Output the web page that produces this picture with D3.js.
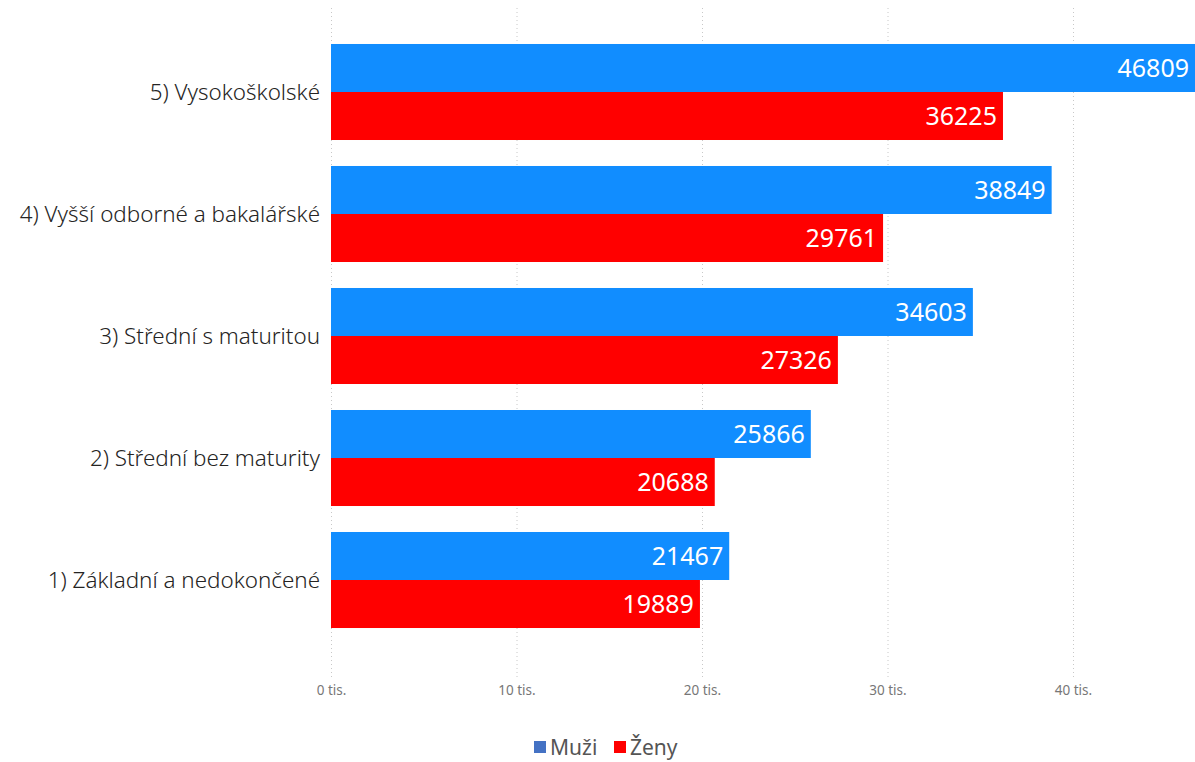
<!DOCTYPE html>
<meta charset="utf-8">
<script src="https://d3js.org/d3.v7.min.js"></script>
<style>
    body { margin: 0; background: #fff; }
    .cat { font-family: 'Noto Sans', sans-serif; font-size: 22.4px; font-weight: 300; fill: #252423; text-anchor: end; }
    .val { font-family: 'Noto Sans', sans-serif; font-size: 25px; fill: #fff; text-anchor: end; }
    .tick text { font-family: 'Noto Sans', sans-serif; font-size: 13.5px; fill: #777; }
    .leg { font-family: 'Noto Sans', sans-serif; font-size: 21px; fill: #555; }
</style>
<div id="chart"></div>
<script>
    // categories (top to bottom)
    const categories = ["5) Vysokoškolské", "4) Vyšší odborné a bakalářské", "3) Střední s maturitou",
        "2) Střední bez maturity", "1) Základní a nedokončené"];
    const seriesNames = ["Muži", "Ženy"];
    const muzi = [46809, 38849, 34603, 25866, 21467];
    const zeny = [36225, 29761, 27326, 20688, 19889];
    const tickValues = [0, 10000, 20000, 30000, 40000];

    const barColors = ["#118DFF", "#FF0000"];
    const legendColors = ["#4472C4", "#FF0000"];

    const width = 1195, height = 762;

    let svg = d3.select("#chart").append("svg")
        .attr("width", width)
        .attr("height", height);

    let x = d3.scaleLinear()
        .domain([0, 40000])
        .range([331, 1073]);

    let y = d3.scaleBand()
        .domain(categories)
        .range([18, 654])
        .padding(0.213);

    let ySub = d3.scaleBand()
        .domain(seriesNames)
        .range([0, y.bandwidth()]);

    // grid lines
    svg.append("g").selectAll("line")
        .data(tickValues)
        .enter().append("line")
        .attr("x1", d => x(d) + 0.5)
        .attr("x2", d => x(d) + 0.5)
        .attr("y1", 8)
        .attr("y2", 678)
        .attr("stroke", "#c8c8c8")
        .attr("stroke-width", 1)
        .attr("stroke-dasharray", "1,3");

    // x axis labels
    let xAxis = svg.append("g")
        .attr("transform", "translate(0,682)")
        .call(d3.axisBottom(x).tickValues(tickValues).tickSize(0).tickPadding(3)
            .tickFormat(d => (d / 1000) + " tis."));
    xAxis.select(".domain").remove();

    const rows = categories.map((c, i) => ({cat: c, values: [muzi[i], zeny[i]]}));

    let groups = svg.selectAll(".grp")
        .data(rows)
        .enter().append("g")
        .attr("class", "grp")
        .attr("transform", d => "translate(0," + y(d.cat) + ")");

    groups.selectAll("rect")
        .data(d => d.values.map((v, j) => ({s: seriesNames[j], v: v, j: j})))
        .enter().append("rect")
        .attr("x", x(0))
        .attr("y", d => ySub(d.s))
        .attr("width", d => Math.min(x(d.v), width) - x(0))
        .attr("height", ySub.bandwidth())
        .attr("fill", d => barColors[d.j]);

    groups.selectAll(".val")
        .data(d => d.values.map((v, j) => ({s: seriesNames[j], v: v, j: j})))
        .enter().append("text")
        .attr("class", "val")
        .attr("x", d => Math.min(x(d.v), width) - 6)
        .attr("y", d => ySub(d.s) + ySub.bandwidth() / 2)
        .attr("dy", "0.36em")
        .text(d => d.v);

    groups.append("text")
        .attr("class", "cat")
        .attr("x", 320)
        .attr("y", y.bandwidth() / 2)
        .attr("dy", "0.35em")
        .text(d => d.cat);

    // legend
    let legend = svg.append("g").attr("transform", "translate(534,741)");
    let lx = [0, 80];
    seriesNames.forEach((n, i) => {
        legend.append("rect")
            .attr("x", lx[i]).attr("y", 0)
            .attr("width", 12).attr("height", 12)
            .attr("fill", legendColors[i]);
        legend.append("text")
            .attr("class", "leg")
            .attr("x", lx[i] + 16).attr("y", 6)
            .attr("dy", "0.36em")
            .text(n);
    });
</script>
